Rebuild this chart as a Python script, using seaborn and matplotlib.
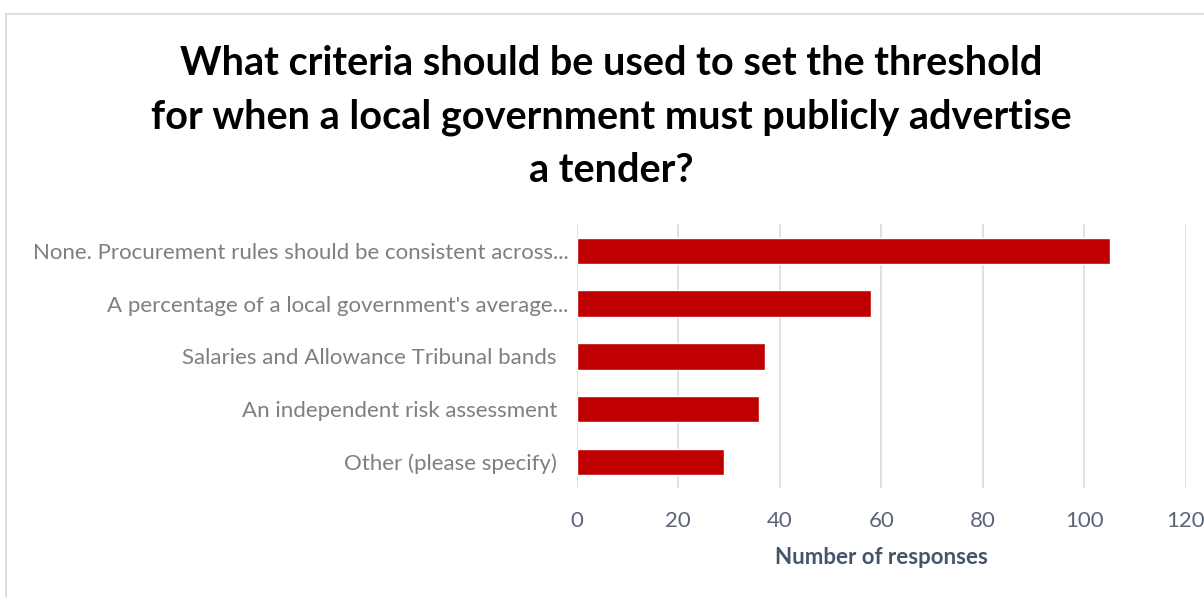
import matplotlib
matplotlib.use("Agg")
import matplotlib.pyplot as plt
from matplotlib.patches import Rectangle
import seaborn as sns
import pandas as pd

categories = [
    "None. Procurement rules should be consistent across...",
    "A percentage of a local government's average...",
    "Salaries and Allowance Tribunal bands  ",
    "An independent risk assessment  ",
    "Other (please specify)  ",
]
responses = [105, 58, 37, 36, 29]
x_ticks = [0, 20, 40, 60, 80, 100, 120]

title = ("What criteria should be used to set the threshold\n"
         "for when a local government must publicly advertise\n"
         "a tender?")
x_label = "Number of responses"

df = pd.DataFrame({"category": categories, "responses": responses})

sns.set_theme(style="white")
plt.rcParams["font.family"] = ["Lato", "DejaVu Sans"]

fig = plt.figure(figsize=(12.04, 5.97), dpi=100)
ax = fig.add_axes([0.479, 0.182, 0.506, 0.442])

sns.barplot(data=df, y="category", x="responses", orient="h",
            color="#C00000", width=0.5, saturation=1, ax=ax, zorder=3)

ax.set_xlim(0, 120)
ax.set_ylim(4.5, -0.5)
ax.set_xticks(x_ticks)
ax.xaxis.grid(True, color="#D9DEE6", linewidth=1.3, zorder=0)
ax.yaxis.grid(False)
for s in ax.spines.values():
    s.set_visible(False)
ax.tick_params(axis="both", length=0, labelsize=16)
ax.tick_params(axis="y", pad=6, colors="#7F7F7F")
ax.tick_params(axis="x", pad=16, colors="#5B6577")
ax.set_ylabel("")
ax.set_xlabel(x_label, fontsize=16, fontweight="bold", color="#44546A", labelpad=12)

fig.text(0.508, 0.925, title, ha="center", va="top", fontsize=28.5,
         fontweight="bold", color="black", linespacing=1.55)

fig.patches.append(Rectangle((6 / 1204, -0.1), 1.2, 1 - 14 / 597 + 0.1,
                             transform=fig.transFigure, fill=False,
                             edgecolor="#D9DEE6", linewidth=1.5))

fig.savefig("out.png", dpi=100)
